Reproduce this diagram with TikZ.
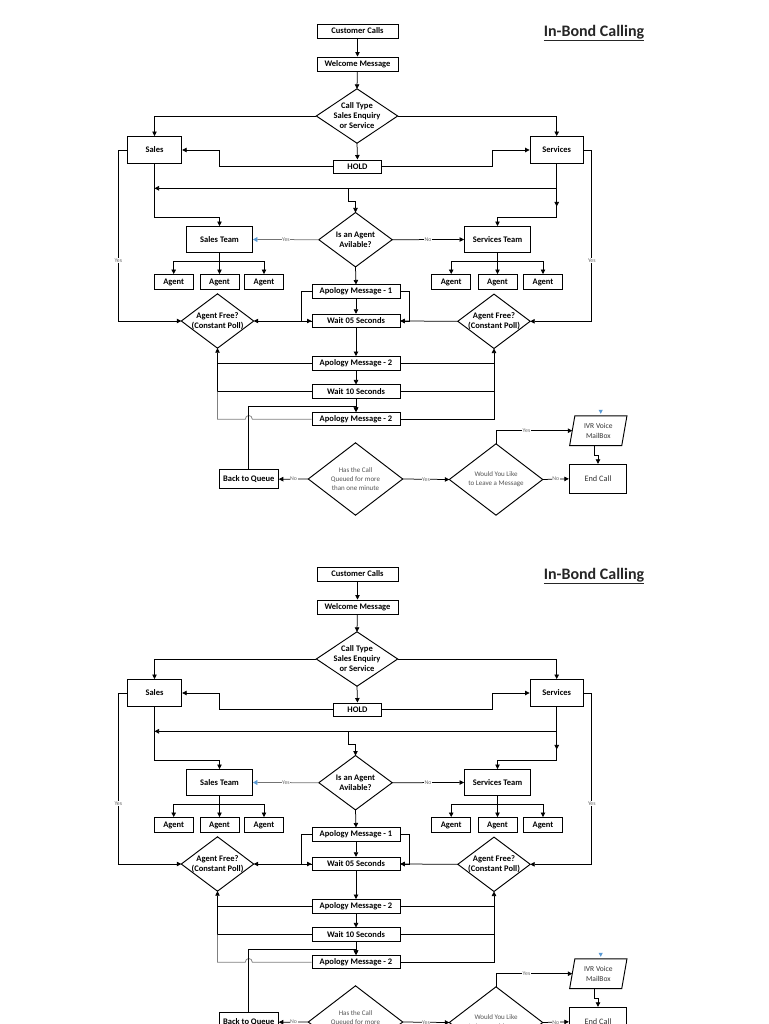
\documentclass[tikz,border=0pt]{standalone}
\usepackage{fontspec}
\setmainfont{Carlito}
\usetikzlibrary{arrows.meta,calc}
\definecolor{blueA}{RGB}{91,155,213}
\definecolor{txtgray}{RGB}{85,85,85}
\definecolor{labgray}{RGB}{105,105,105}
\tikzset{
  outl/.style={line width=0.95pt, line join=miter},
  box/.style={draw, outl, rectangle, inner sep=0pt, align=center,
    font=\fontsize{8.5}{10}\selectfont\bfseries},
  dnode/.style={rectangle, inner sep=0pt, align=center,
    font=\fontsize{8.5}{10}\selectfont\bfseries},
  graytext/.style={text=txtgray, font=\fontsize{7}{8.8}\selectfont},
  agentbox/.style={box, minimum width=39pt, minimum height=15pt},
  msgbox/.style={box, minimum width=88pt, minimum height=13.5pt},
  ln/.style={line width=0.75pt},
  arr/.style={ln, -{Triangle[length=4.5pt,width=4.5pt]}},
  barr/.style={line width=0.75pt, draw=black!55, -{Triangle[length=4.5pt,width=5pt,color=blueA]}},
  lab/.style={font=\fontsize{5.8}{6.5}\selectfont, text=labgray, fill=white, inner sep=0.6pt},
  titlestyle/.style={inner sep=0pt, font=\fontsize{16}{18}\selectfont\bfseries, text=black!85},
}
\newcommand{\flowchartcopy}{%
  \node[titlestyle] (title) at (594,33) {\underline{In-Bond Calling}};
  \node[box, minimum width=81pt, minimum height=14pt] (cc) at (357.5,31) {Customer Calls};
  \node[box, minimum width=81pt, minimum height=14pt] (wm) at (357.5,64) {Welcome Message};
  \node[dnode, minimum width=81pt, minimum height=54pt] (ct) at (357,116) {Call Type\\Sales Enquiry\\or Service};
  \node[box, minimum width=54.4pt, minimum height=27pt] (sales) at (154.5,150) {Sales};
  \node[box, minimum width=53.3pt, minimum height=27pt] (serv) at (556.7,150) {Services};
  \node[box, minimum width=48pt, minimum height=13pt] (hold) at (357.5,166.5) {HOLD};
  \node[box, minimum width=66pt, minimum height=26pt] (st) at (219.5,239.5) {Sales Team};
  \node[dnode, minimum width=73pt, minimum height=54pt] (ia) at (355.5,239.7) {Is an Agent\\Avilable?};
  \node[box, minimum width=66pt, minimum height=26pt] (svt) at (497.5,239.5) {Services Team};
  \node[agentbox] (a1) at (173.7,282) {Agent};
  \node[agentbox] (a2) at (219.5,282) {Agent};
  \node[agentbox] (a3) at (264,282) {Agent};
  \node[agentbox] (a4) at (451.2,282) {Agent};
  \node[agentbox] (a5) at (497.5,282) {Agent};
  \node[agentbox] (a6) at (543,282) {Agent};
  \node[dnode, minimum width=72pt, minimum height=54pt] (af1) at (217.5,321) {Agent Free?\\(Constant Poll)};
  \node[dnode, minimum width=72pt, minimum height=54pt] (af2) at (494,321.3) {Agent Free?\\(Constant Poll)};
  \node[msgbox] (ap1) at (356,291.7) {Apology Message - 1};
  \node[msgbox] (w05) at (356,321) {Wait 05 Seconds};
  \node[msgbox] (ap2) at (356,363.3) {Apology Message - 2};
  \node[msgbox] (w10) at (356,391.7) {Wait 10 Seconds};
  \node[msgbox] (ap3) at (356,419.2) {Apology Message - 2};
  \node[box, minimum width=59pt, minimum height=18.5pt] (bq) at (248.8,479.2) {Back to Queue};
  \node[dnode, graytext, minimum width=94pt, minimum height=72pt] (hc) at (355.5,479) {Has the Call\\Queued for more\\than one minute};
  \node[dnode, graytext, minimum width=93pt, minimum height=71pt] (wy) at (496,479.5) {Would You Like\\to Leave a Message};
  \node[dnode, font=\fontsize{7.5}{10.5}\selectfont, text=black!80, minimum width=51.7pt, minimum height=29.3pt] (ivr) at (598.3,430.7) {IVR Voice\\MailBox};
  \node[box, font=\fontsize{8.3}{10}\selectfont, text=black!80, minimum width=57.4pt, minimum height=29pt] (ec) at (598,478.8) {End Call};
  % diamond outlines
  \foreach \d in {ct,ia,af1,af2,hc,wy}
    \draw[outl] (\d.north) -- (\d.east) -- (\d.south) -- (\d.west) -- cycle;
  % IVR parallelogram
  \draw[outl] ([xshift=2.6pt]ivr.north west) -- ([xshift=2.6pt]ivr.north east)
     -- ([xshift=-2.6pt]ivr.south east) -- ([xshift=-2.6pt]ivr.south west) -- cycle;
  \fill[blueA] (598.6,409.8) -- (602.8,409.8) -- (600.7,413.8) -- cycle;
  % connectors
  \draw[arr] (cc) -- (wm);
  \draw[arr] (wm) -- (ct.north);
  \draw[arr] (ct.west) -| (sales.north);
  \draw[arr] (ct.east) -| (serv.north);
  \draw[arr] (ct.south) -- (hold.north);
  \draw[arr] (hold.west) -- ++(-114,0) |- (sales.east);
  \draw[arr] (hold.east) -- ++(110,0) |- (serv.west);
  \draw[arr] (sales.south) -- ++(0,53.2) -| (st.north);
  \draw[arr] (serv.south |- 0,188.3) -- (sales.south |- 0,188.3);
  \draw[arr] (348.3,188.3) -- (348.3,201.7) -| (ia.north);
  \draw[arr] (serv.south) -- ++(0,42.5);
  \draw[arr] (serv.south) -- ++(0,53.2) -| (svt.north);
  \draw[barr] (ia.west) -- node[lab] (lyes1) {Yes} (st.east);
  \draw[arr] (ia.east) -- node[lab] (lno1) {No} (svt.west);
  \draw[arr] (st.south) -- ++(0,8.5) -| (a1.north);
  \draw[arr] (st.south) -- ++(0,8.5) -| (a3.north);
  \draw[arr] (st.south) -- (a2.north);
  \draw[arr] (svt.south) -- ++(0,8.5) -| (a4.north);
  \draw[arr] (svt.south) -- ++(0,8.5) -| (a6.north);
  \draw[arr] (svt.south) -- (a5.north);
  \draw[arr] (sales.west) -- ++(-8.5,0) |- node[lab, pos=0.323] (lyes2) {Yes} (af1.west);
  \draw[arr] (serv.east) -- ++(8,0) |- node[lab, pos=0.323] (lyes3) {Yes} (af2.east);
  \draw[arr] (ia.south) -- (ap1.north);
  \draw[arr] (ap1.south) -- (w05.north);
  \draw[arr] (ap1.west) -- ++(-9.7,0) |- (w05.west);
  \draw[arr] (ap1.east) -- ++(9.3,0) |- (w05.east);
  \draw[arr] (w05.west) -- (af1.east);
  \draw[arr] (af2.west) -- (w05.east);
  \draw[arr] (w05.south) -- (ap2.north);
  \draw[arr] (ap2.south) -- (w10.north);
  \draw[arr] (w10.south) -- (ap3.north);
  \draw[arr] (ap2.west) -| (af1.south);
  \draw[arr] (ap2.east) -| (af2.south);
  \draw[ln] (w10.west) -- (w10.west -| af1.south) -- (ap2.west -| af1.south);
  \draw[ln] (w10.east) -- (w10.east -| af2.south) -- (ap2.east -| af2.south);
  \draw[ln] (ap3.east) -- (ap3.east -| af2.south) -- (w10.east -| af2.south);
  \draw[ln, draw=black!50] (ap3.west) -- (252.3,419.2) .. controls (252.3,414.3) and (245.3,414.3) .. (245.3,419.2)
     -- (ap3.west -| af1.south) -- (w10.west -| af1.south);
  \draw[arr] (bq.north) -- (bq.north |- 0,406.7) -| (ap3.north);
  \draw[arr] (hc.west) -- node[lab] (lno2) {No} (bq.east);
  \draw[arr] (hc.east) -- node[lab] (lyes4) {Yes} (wy.west);
  \draw[arr] (wy.east) -- node[lab] (lno3) {No} (ec.west);
  \draw[arr] (wy.north) |- node[lab, pos=0.7] (lyes5) {Yes} (ivr.west);
  \draw[arr] ([xshift=-4pt]ivr.south) -- ++(0,9.7) -| (ec.north);
}
\begin{document}
\begin{tikzpicture}[x=1pt, y=-1pt]
  \useasboundingbox (0,0) rectangle (768,1024);
  \clip (0,0) rectangle (768,1024);
  \fill[white] (0,0) rectangle (768,1024);
  \begin{scope}[name prefix=A-]
    \flowchartcopy
  \end{scope}
  \begin{scope}[yshift=-543pt, name prefix=B-]
    \flowchartcopy
  \end{scope}
\end{tikzpicture}
\end{document}
